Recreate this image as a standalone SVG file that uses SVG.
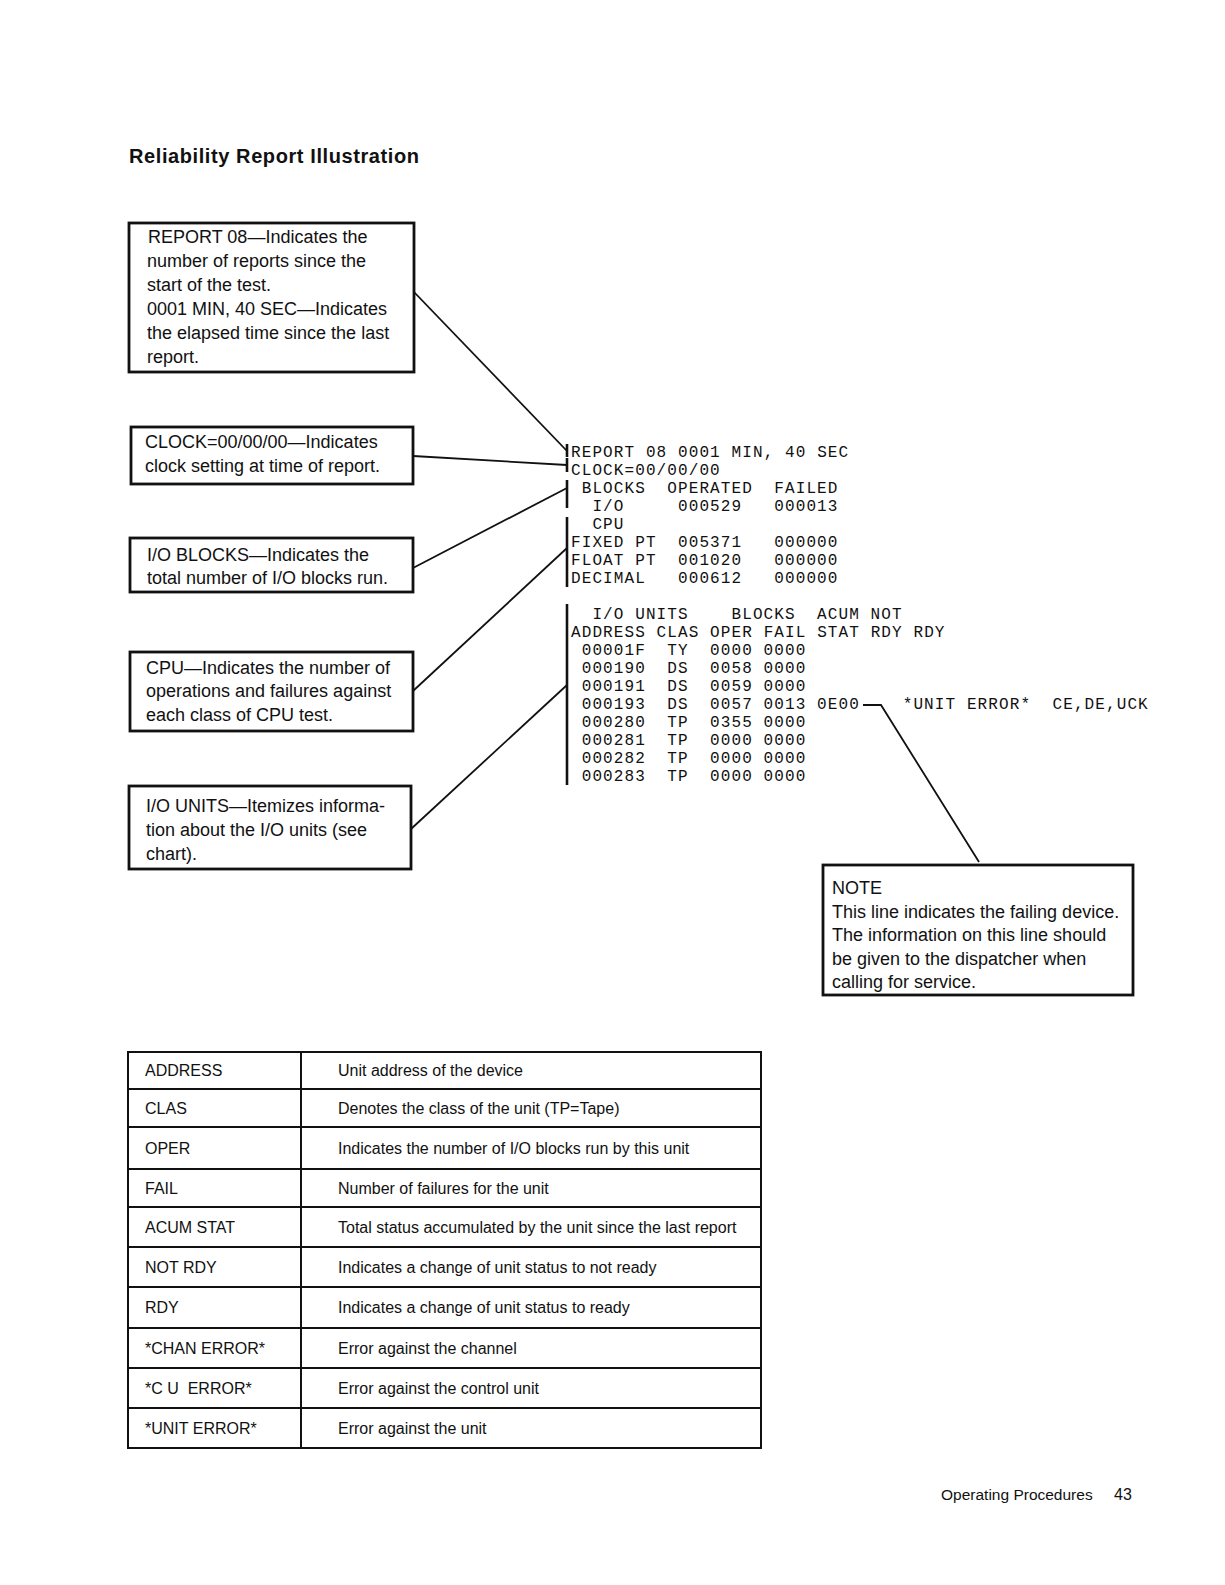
<svg xmlns="http://www.w3.org/2000/svg" width="1225" height="1585" viewBox="0 0 1225 1585">
<style>
.box{fill:none;stroke:#111;stroke-width:2.8}
.t{font-family:"Liberation Sans",Arial,sans-serif;font-size:18px;fill:#111}
.m{font-family:"Liberation Mono","Courier New",monospace;font-size:16px;letter-spacing:1.1px;fill:#111}
.tb{font-family:"Liberation Sans",Arial,sans-serif;font-size:16px;fill:#111}
.ln{fill:none;stroke:#111;stroke-width:1.8}
.br{fill:none;stroke:#111;stroke-width:2.6}
.grid{fill:none;stroke:#111;stroke-width:2}
</style>
<rect width="1225" height="1585" fill="#fff"/>
<text x="129" y="163" font-family="Liberation Sans,Arial,sans-serif" font-size="20" font-weight="bold" fill="#111" textLength="290" lengthAdjust="spacing">Reliability  Report  Illustration</text>

<g id="box-report">
<rect class="box" x="129" y="223" width="285" height="149"/>
<text class="t" x="148" y="243">REPORT 08—Indicates the</text>
<text class="t" x="147" y="267">number of reports since the</text>
<text class="t" x="147" y="291">start of the test.</text>
<text class="t" x="147" y="315">0001 MIN, 40 SEC—Indicates</text>
<text class="t" x="147" y="339">the elapsed time since the last</text>
<text class="t" x="147" y="363">report.</text>
</g>
<g id="box-clock">
<rect class="box" x="131" y="427" width="282" height="57"/>
<text class="t" x="145" y="448">CLOCK=00/00/00—Indicates</text>
<text class="t" x="145" y="472">clock setting at time of report.</text>
</g>
<g id="box-ioblocks">
<rect class="box" x="130" y="538" width="283" height="54"/>
<text class="t" x="147" y="561">I/O BLOCKS—Indicates the</text>
<text class="t" x="147" y="584">total number of I/O blocks run.</text>
</g>
<g id="box-cpu">
<rect class="box" x="130" y="652" width="283" height="79"/>
<text class="t" x="146" y="674">CPU—Indicates the number of</text>
<text class="t" x="146" y="697">operations and failures against</text>
<text class="t" x="146" y="721">each class of CPU test.</text>
</g>
<g id="box-iounits">
<rect class="box" x="129" y="786" width="282" height="83"/>
<text class="t" x="146" y="812">I/O UNITS—Itemizes informa-</text>
<text class="t" x="146" y="836">tion about the I/O units (see</text>
<text class="t" x="146" y="860">chart).</text>
</g>

<g id="report">
<text class="m" x="571" y="457">REPORT 08 0001 MIN, 40 SEC</text>
<text class="m" x="571" y="475">CLOCK=00/00/00</text>
<text class="m" y="493"><tspan x="581.7">BLOCKS</tspan><tspan x="667.3">OPERATED</tspan><tspan x="774.3">FAILED</tspan></text>
<text class="m" y="511"><tspan x="592.4">I/O</tspan><tspan x="678">000529</tspan><tspan x="774.3">000013</tspan></text>
<text class="m" x="592.4" y="529">CPU</text>
<text class="m" y="547"><tspan x="571">FIXED PT</tspan><tspan x="678">005371</tspan><tspan x="774.3">000000</tspan></text>
<text class="m" y="565"><tspan x="571">FLOAT PT</tspan><tspan x="678">001020</tspan><tspan x="774.3">000000</tspan></text>
<text class="m" y="583"><tspan x="571">DECIMAL</tspan><tspan x="678">000612</tspan><tspan x="774.3">000000</tspan></text>
<text class="m" y="619"><tspan x="592.4">I/O UNITS</tspan><tspan x="731.5">BLOCKS</tspan><tspan x="817.1">ACUM NOT</tspan></text>
<text class="m" x="571" y="637">ADDRESS CLAS OPER FAIL STAT RDY RDY</text>
<text class="m" y="655"><tspan x="581.7">00001F</tspan><tspan x="667.3">TY</tspan><tspan x="710.1">0000 0000</tspan></text>
<text class="m" y="673"><tspan x="581.7">000190</tspan><tspan x="667.3">DS</tspan><tspan x="710.1">0058 0000</tspan></text>
<text class="m" y="691"><tspan x="581.7">000191</tspan><tspan x="667.3">DS</tspan><tspan x="710.1">0059 0000</tspan></text>
<text class="m" y="709"><tspan x="581.7">000193</tspan><tspan x="667.3">DS</tspan><tspan x="710.1">0057 0013</tspan><tspan x="817.1">0E00</tspan><tspan x="902.7">*UNIT ERROR*</tspan><tspan x="1052.5">CE,DE,UCK</tspan></text>
<text class="m" y="727"><tspan x="581.7">000280</tspan><tspan x="667.3">TP</tspan><tspan x="710.1">0355 0000</tspan></text>
<text class="m" y="745"><tspan x="581.7">000281</tspan><tspan x="667.3">TP</tspan><tspan x="710.1">0000 0000</tspan></text>
<text class="m" y="763"><tspan x="581.7">000282</tspan><tspan x="667.3">TP</tspan><tspan x="710.1">0000 0000</tspan></text>
<text class="m" y="781"><tspan x="581.7">000283</tspan><tspan x="667.3">TP</tspan><tspan x="710.1">0000 0000</tspan></text>
</g>

<g id="box-note">
<rect class="box" x="823" y="865" width="310" height="130"/>
<text class="t" x="832" y="894">NOTE</text>
<text class="t" x="832" y="918">This line indicates the failing device.</text>
<text class="t" x="832" y="941">The information on this line should</text>
<text class="t" x="832" y="965">be given to the dispatcher when</text>
<text class="t" x="832" y="988">calling for service.</text>
</g>

<g id="connectors">
<line class="ln" x1="414" y1="292" x2="567" y2="451"/>
<line class="br" x1="567" y1="444" x2="567" y2="457"/>
<line class="ln" x1="413" y1="456" x2="567" y2="465"/>
<line class="br" x1="567" y1="458" x2="567" y2="472"/>
<line class="ln" x1="413" y1="568" x2="567" y2="488"/>
<line class="br" x1="567" y1="480" x2="567" y2="508"/>
<line class="ln" x1="413" y1="691" x2="567" y2="548"/>
<line class="br" x1="567" y1="517" x2="567" y2="587"/>
<line class="ln" x1="411" y1="829" x2="567" y2="685"/>
<line class="br" x1="567" y1="604" x2="567" y2="785"/>
<polyline class="ln" points="863,705 881,705 979,862" stroke-width="2"/>
</g>

<g id="table">
<rect class="grid" x="128" y="1052" width="633" height="396"/>
<line class="grid" x1="301" y1="1052" x2="301" y2="1448"/>
<line class="grid" x1="128" y1="1089" x2="761" y2="1089"/>
<line class="grid" x1="128" y1="1127" x2="761" y2="1127"/>
<line class="grid" x1="128" y1="1169" x2="761" y2="1169"/>
<line class="grid" x1="128" y1="1207" x2="761" y2="1207"/>
<line class="grid" x1="128" y1="1247" x2="761" y2="1247"/>
<line class="grid" x1="128" y1="1287" x2="761" y2="1287"/>
<line class="grid" x1="128" y1="1328" x2="761" y2="1328"/>
<line class="grid" x1="128" y1="1368" x2="761" y2="1368"/>
<line class="grid" x1="128" y1="1408" x2="761" y2="1408"/>
<text class="tb" x="145" y="1076">ADDRESS</text><text class="tb" x="338" y="1076">Unit address of the device</text>
<text class="tb" x="145" y="1114">CLAS</text><text class="tb" x="338" y="1114">Denotes the class of the unit (TP=Tape)</text>
<text class="tb" x="145" y="1154">OPER</text><text class="tb" x="338" y="1154">Indicates the number of I/O blocks run by this unit</text>
<text class="tb" x="145" y="1194">FAIL</text><text class="tb" x="338" y="1194">Number of failures for the unit</text>
<text class="tb" x="145" y="1233">ACUM STAT</text><text class="tb" x="338" y="1233">Total status accumulated by the unit since the last report</text>
<text class="tb" x="145" y="1273">NOT RDY</text><text class="tb" x="338" y="1273">Indicates a change of unit status to not ready</text>
<text class="tb" x="145" y="1313">RDY</text><text class="tb" x="338" y="1313">Indicates a change of unit status to ready</text>
<text class="tb" x="145" y="1354">*CHAN ERROR*</text><text class="tb" x="338" y="1354">Error against the channel</text>
<text class="tb" x="145" y="1394" xml:space="preserve">*C U  ERROR*</text><text class="tb" x="338" y="1394">Error against the control unit</text>
<text class="tb" x="145" y="1434">*UNIT ERROR*</text><text class="tb" x="338" y="1434">Error against the unit</text>
</g>

<text x="941" y="1500" font-family="Liberation Sans,Arial,sans-serif" font-size="15.5" fill="#111">Operating Procedures</text>
<text x="1114" y="1500" font-family="Liberation Sans,Arial,sans-serif" font-size="16" fill="#111">43</text>
</svg>
